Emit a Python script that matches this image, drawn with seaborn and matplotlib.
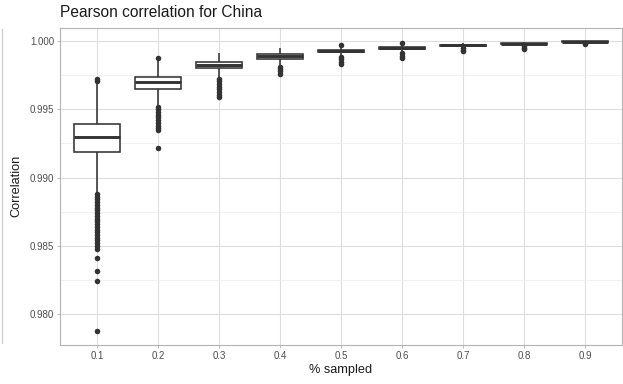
import numpy as np
import pandas as pd
import matplotlib
matplotlib.use("Agg")
import matplotlib.pyplot as plt
from matplotlib.lines import Line2D
from matplotlib.ticker import FixedLocator
import seaborn as sns

# Fraction of points sampled (x categories)
categories = ["0.1", "0.2", "0.3", "0.4", "0.5", "0.6", "0.7", "0.8", "0.9"]

# Box summaries of the Pearson correlation per sampling fraction
whisker_low = [0.98890, 0.99528, 0.99735, 0.99820, 0.99892, 0.99918, 0.99951, 0.99966, 0.99987]
q1 = [0.99190, 0.99652, 0.99800, 0.99868, 0.99917, 0.99940, 0.99964, 0.99976, 0.99993]
median = [0.99299, 0.99703, 0.99826, 0.99888, 0.99928, 0.99950, 0.99970, 0.99980, 0.99996]
q3 = [0.99394, 0.99739, 0.99848, 0.99903, 0.99937, 0.99957, 0.99974, 0.99984, 0.99998]
whisker_high = [0.99692, 0.99862, 0.99915, 0.99947, 0.99960, 0.99978, 0.99986, 0.99994, 1.00000]

# Runs falling outside 1.5 IQR
outliers = [
    [0.99710, 0.99722,
     0.98880, 0.98860, 0.98840, 0.98820, 0.98800, 0.98780, 0.98760, 0.98740,
     0.98720, 0.98700, 0.98680, 0.98660, 0.98640, 0.98620, 0.98600, 0.98580,
     0.98560, 0.98540, 0.98520, 0.98500, 0.98478, 0.98410, 0.98314, 0.98243,
     0.97881],
    [0.99878,
     0.99520, 0.99500, 0.99480, 0.99460, 0.99440, 0.99420, 0.99400, 0.99380,
     0.99360, 0.99352, 0.99217],
    [0.99725, 0.99705, 0.99685, 0.99665, 0.99645, 0.99625, 0.99605, 0.99591],
    [0.99812, 0.99795, 0.99778, 0.99759],
    [0.99971, 0.99883, 0.99866, 0.99849, 0.99832],
    [0.99986, 0.99910, 0.99893, 0.99876],
    [0.99945, 0.99933, 0.99923],
    [0.99960, 0.99950, 0.99942],
    [0.99983, 0.99980],
]

y_ticks = [0.980, 0.985, 0.990, 0.995, 1.000]
y_tick_labels = ["0.980", "0.985", "0.990", "0.995", "1.000"]
y_minor = [0.9825, 0.9875, 0.9925, 0.9975]

# Long-form table: each quartile value is weighted heavily so the
# computed quartiles equal the summaries above, whiskers and outliers as-is.
WEIGHT = 200
rows = []
for i, cat in enumerate(categories):
    vals = ([whisker_low[i]] + [q1[i]] * WEIGHT + [median[i]] * WEIGHT
            + [q3[i]] * WEIGHT + [whisker_high[i]] + outliers[i])
    rows.extend((cat, v) for v in vals)
df = pd.DataFrame(rows, columns=["sampled", "correlation"])

sns.set_theme(style="white")
plt.rcParams["font.family"] = ["Liberation Sans", "DejaVu Sans"]

fig = plt.figure(figsize=(6.23, 3.84), dpi=100)
ax = fig.add_axes([60.3 / 623, 1 - 345 / 384, (621.7 - 60.3) / 623, (345 - 27.7) / 384])

edge = "#333333"
sns.boxplot(
    data=df, x="sampled", y="correlation", order=categories, ax=ax,
    color="white", saturation=1, linecolor=edge, linewidth=1.15, width=0.75,
    showcaps=False, whis=1.5, fliersize=4.0,
    flierprops=dict(marker="o", markerfacecolor=edge, markeredgecolor=edge,
                    markeredgewidth=0),
    medianprops=dict(color=edge, linewidth=2.1),
    zorder=3,
)

ax.set_xlim(-0.6, 8.6)
ax.set_ylim(0.97775, 1.00097)
ax.set_yticks(y_ticks)
ax.set_yticklabels(y_tick_labels)
ax.yaxis.set_minor_locator(FixedLocator(y_minor))

ax.set_facecolor("white")
ax.set_axisbelow(True)
ax.grid(True, which="major", color="#DEDEDE", linewidth=0.8)
ax.grid(True, which="minor", axis="y", color="#EBEBEB", linewidth=0.5)
for s in ax.spines.values():
    s.set_visible(True)
    s.set_color("#B3B3B3")
    s.set_linewidth(0.8)

ax.tick_params(axis="both", which="major", length=2.5, width=0.6, color="#B3B3B3",
               labelsize=7.0, labelcolor="#4D4D4D", pad=2, bottom=True, left=True)
ax.tick_params(axis="y", which="minor", length=0)

ax.set_xlabel("% sampled", fontsize=9.2, color="#1A1A1A", labelpad=2)
ax.set_ylabel("Correlation", fontsize=9.2, color="#1A1A1A", labelpad=5)
ax.set_title("Pearson correlation for China", loc="left", fontsize=11.2,
             color="#1A1A1A", pad=8)

# thin rule along the left edge of the figure
fig.add_artist(Line2D([1.5 / 623, 1.5 / 623], [1 - 29 / 384, 1 - 343 / 384],
                      transform=fig.transFigure, color="#CFCFCF", linewidth=1.0))

fig.savefig("out.png", dpi=100)
